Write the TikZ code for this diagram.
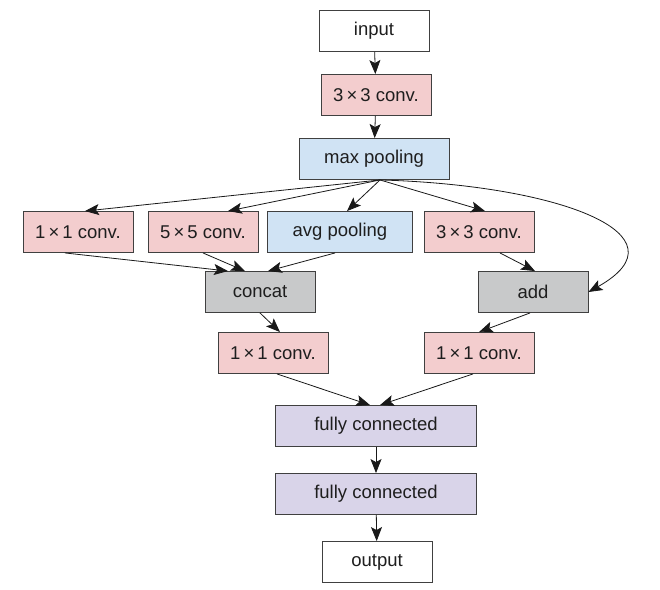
\documentclass[tikz,border=0pt]{standalone}
\usepackage{fontspec}
\setmainfont{Liberation Sans}
\usetikzlibrary{arrows.meta, positioning}
\definecolor{ConvPink}{RGB}{243, 205, 206}
\definecolor{PoolBlue}{RGB}{208, 227, 244}
\definecolor{MergeGray}{RGB}{200, 201, 202}
\definecolor{DenseLilac}{RGB}{217, 212, 233}
\definecolor{EdgeText}{RGB}{30, 30, 30}

\tikzset{
  layer/.style={draw=EdgeText!85, line width=0.9pt, minimum height=41pt, minimum width=110pt,
    inner sep=0pt, text=EdgeText, font=\fontsize{18.5}{20}\selectfont},
  conv/.style={layer, fill=ConvPink},
  pool/.style={layer, fill=PoolBlue},
  merge/.style={layer, fill=MergeGray},
  dense/.style={layer, fill=DenseLilac, minimum width=201pt},
  io/.style={layer, fill=white},
  flow/.style={-{Stealth[length=14pt, width=11pt, inset=3pt]}, line width=0.8pt, draw=black!90}
}

\begin{document}
\begin{tikzpicture}[x=1pt, y=-1pt]
      \useasboundingbox (0,0) rectangle (660,589);

      % Stem
      \node[io] (input) at (374, 31) {input};
      \node[conv] (stem) at (376, 95) {3\,×\,3 conv.};
      \node[pool, minimum width=150pt] (maxpool) at (374, 159) {max pooling};

      % Branches
      \node[conv] (convA) at (78, 232) {1\,×\,1 conv.};
      \node[conv] (convB) at (203, 232) {5\,×\,5 conv.};
      \node[pool, minimum width=145pt] (avgpool) at (340, 232) {avg pooling};
      \node[conv] (convC) at (479, 232) {3\,×\,3 conv.};

      % Merges
      \node[merge] (concat) at (260, 292) {concat};
      \node[merge] (add) at (533, 292) {add};
      \node[conv] (reduceL) at (273, 353) {1\,×\,1 conv.};
      \node[conv] (reduceR) at (479, 353) {1\,×\,1 conv.};

      % Head
      \node[dense] (fcA) at (376, 426) {fully connected};
      \node[dense] (fcB) at (376, 494) {fully connected};
      \node[io] (output) at (377, 562) {output};

      \coordinate (split) at ([xshift=6pt]maxpool.south);

      \draw[flow] (input) -- (stem);
      \draw[flow] (stem) -- (maxpool);
      \draw[flow] (split) -- ([xshift=7pt]convA.north);
      \draw[flow] (split) -- ([xshift=25pt]convB.north);
      \draw[flow] (split) -- ([xshift=7pt]avgpool.north);
      \draw[flow] (split) -- ([xshift=6pt]convC.north);
      \draw[flow] (split) .. controls (560,185) and (690,235) .. (add.east);

      \draw[flow] ([xshift=-13pt]convA.south) -- ([xshift=-32pt]concat.north);
      \draw[flow] (convB.south) -- ([xshift=-15pt]concat.north);
      \draw[flow] ([xshift=-5pt]avgpool.south) -- ([xshift=8pt]concat.north);
      \draw[flow] ([xshift=21pt]convC.south) -- ([xshift=2pt]add.north);

      \draw[flow] (concat.south) -- ([xshift=7pt]reduceL.north);
      \draw[flow] ([xshift=-3pt]add.south) -- (reduceR.north);
      \draw[flow] ([xshift=4pt]reduceL.south) -- ([xshift=-6pt]fcA.north);
      \draw[flow] ([xshift=-6pt]reduceR.south) -- ([xshift=4pt]fcA.north);

      \draw[flow] (fcA) -- (fcB);
      \draw[flow] (fcB) -- (output);
\end{tikzpicture}
\end{document}
